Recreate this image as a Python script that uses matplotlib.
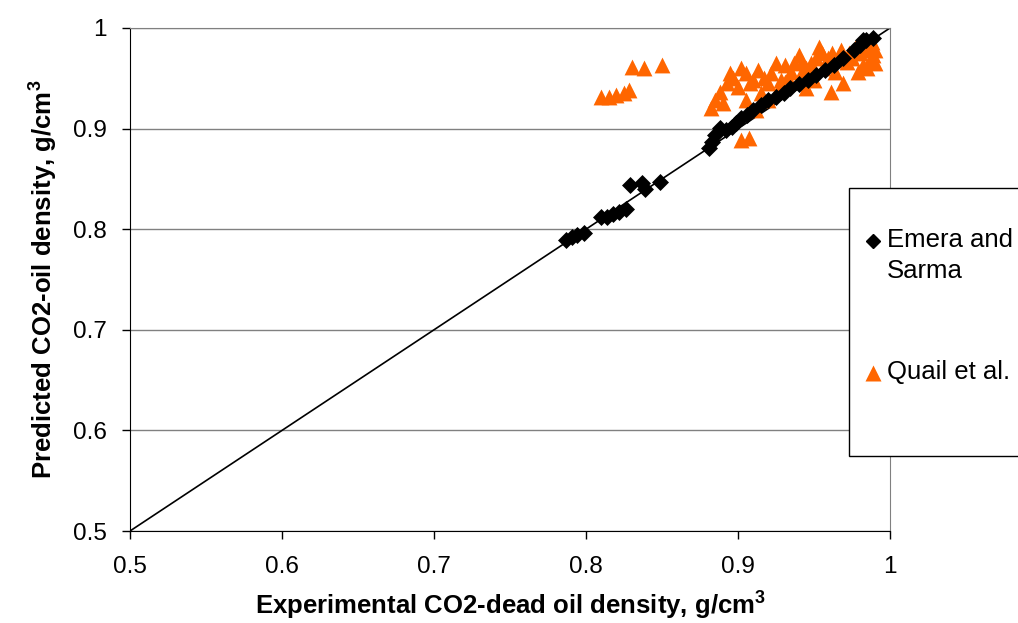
import matplotlib
matplotlib.use('Agg')
import matplotlib.pyplot as plt
from matplotlib.lines import Line2D
from matplotlib.patches import Rectangle

plt.rcParams['font.family'] = ['Liberation Sans', 'DejaVu Sans']

# Emera and Sarma (black diamonds)
emera_x = [0.787, 0.791, 0.794, 0.799, 0.810, 0.814, 0.818, 0.822, 0.826,
           0.829, 0.837, 0.839, 0.849,
           0.881, 0.883, 0.885, 0.888, 0.892, 0.896, 0.899, 0.902, 0.906,
           0.910, 0.915, 0.920, 0.925, 0.930, 0.934, 0.940, 0.946, 0.951,
           0.957, 0.963, 0.969, 0.976, 0.980, 0.982, 0.984, 0.989]
emera_y = [0.789, 0.792, 0.794, 0.796, 0.812, 0.812, 0.815, 0.817, 0.820,
           0.844, 0.846, 0.840, 0.847,
           0.881, 0.887, 0.894, 0.901, 0.899, 0.902, 0.906, 0.911, 0.914,
           0.918, 0.923, 0.928, 0.931, 0.935, 0.940, 0.944, 0.948, 0.953,
           0.958, 0.963, 0.970, 0.978, 0.983, 0.988, 0.988, 0.990]

# Quail et al. (orange triangles)
quail_x = [0.810, 0.815, 0.820, 0.825, 0.828, 0.830, 0.838, 0.850,
           0.882, 0.885, 0.888, 0.895, 0.902, 0.900, 0.905, 0.910, 0.913,
           0.912, 0.915, 0.920, 0.920, 0.925, 0.928, 0.931, 0.931, 0.935,
           0.940, 0.942, 0.945, 0.947, 0.951, 0.953, 0.956, 0.959, 0.961,
           0.964, 0.968, 0.969, 0.972, 0.977, 0.979, 0.982, 0.984, 0.987,
           0.988, 0.989, 0.902, 0.907,
           0.890, 0.893, 0.897, 0.905, 0.908, 0.917, 0.922, 0.927, 0.933,
           0.937, 0.943, 0.948, 0.955, 0.962, 0.966, 0.973, 0.975, 0.980,
           0.985, 0.990, 0.990, 0.985, 0.950, 0.945]
quail_y = [0.931, 0.931, 0.933, 0.935, 0.938, 0.961, 0.960, 0.963,
           0.920, 0.928, 0.936, 0.955, 0.960, 0.941, 0.928, 0.948, 0.958,
           0.918, 0.935, 0.945, 0.928, 0.965, 0.948, 0.963, 0.946, 0.956,
           0.973, 0.966, 0.940, 0.953, 0.970, 0.981, 0.960, 0.970, 0.936,
           0.956, 0.978, 0.945, 0.966, 0.980, 0.956, 0.963, 0.983, 0.968,
           0.986, 0.973, 0.889, 0.891,
           0.925, 0.945, 0.950, 0.955, 0.945, 0.950, 0.955, 0.940, 0.950,
           0.965, 0.958, 0.965, 0.975, 0.975, 0.968, 0.975, 0.970, 0.975,
           0.978, 0.978, 0.965, 0.960, 0.948, 0.960]

fig = plt.figure(figsize=(10.18, 6.23), dpi=100)
ax = fig.add_axes([130 / 1018, 1 - 531 / 623, 760 / 1018, 503 / 623])

ax.plot([0.5, 1], [0.5, 1], color='black', lw=1.2, zorder=2)
ax.scatter(quail_x, quail_y, marker='^', s=130, color='#FF6600',
           linewidths=0, zorder=3, clip_on=False)
ax.scatter(emera_x, emera_y, marker='D', s=75, color='black',
           linewidths=0, zorder=4, clip_on=False)

ax.set_xlim(0.5, 1)
ax.set_ylim(0.5, 1)
ax.set_xticks([0.5, 0.6, 0.7, 0.8, 0.9, 1.0])
ax.set_xticklabels(['0.5', '0.6', '0.7', '0.8', '0.9', '1'])
ax.set_yticks([0.5, 0.6, 0.7, 0.8, 0.9, 1.0])
ax.set_yticklabels(['0.5', '0.6', '0.7', '0.8', '0.9', '1'])
ax.yaxis.grid(True, color='#808080', lw=1)
ax.set_axisbelow(True)
ax.tick_params(direction='out', length=6, width=1, labelsize=17.5)
ax.tick_params(axis='x', pad=12)
ax.tick_params(axis='y', pad=11)
for s in ['top', 'right']:
    ax.spines[s].set_color('#808080')
for s in ['left', 'bottom']:
    ax.spines[s].set_color('black')

ax.set_xlabel('Experimental CO2-dead oil density, g/cm$^\\mathregular{3}$',
              fontsize=18.5, fontweight='bold', labelpad=7)
ax.set_ylabel('Predicted CO2-oil density, g/cm$^\\mathregular{3}$',
              fontsize=18.5, fontweight='bold', labelpad=10)

# legend box (runs off the right edge like the original)
fig.patches.append(Rectangle((849 / 1018, 1 - 456 / 623), 0.2, 268 / 623,
                             transform=fig.transFigure, facecolor='white',
                             edgecolor='black', lw=1, zorder=5))
fig.lines.append(Line2D([873 / 1018], [1 - 241 / 623], marker='D', ms=7,
                        color='black', ls='none', transform=fig.transFigure,
                        zorder=6))
fig.lines.append(Line2D([873 / 1018], [1 - 373 / 623], marker='^', ms=12,
                        color='#FF6600', mec='none', ls='none',
                        transform=fig.transFigure, zorder=6))
fig.text(887 / 1018, 1 - 240 / 623, 'Emera and', fontsize=18.5, va='center',
         zorder=7)
fig.text(887 / 1018, 1 - 271 / 623, 'Sarma', fontsize=18.5, va='center',
         zorder=7)
fig.text(887 / 1018, 1 - 372 / 623, 'Quail et al.', fontsize=18.5,
         va='center', zorder=7)

fig.savefig('out.png', dpi=100)
